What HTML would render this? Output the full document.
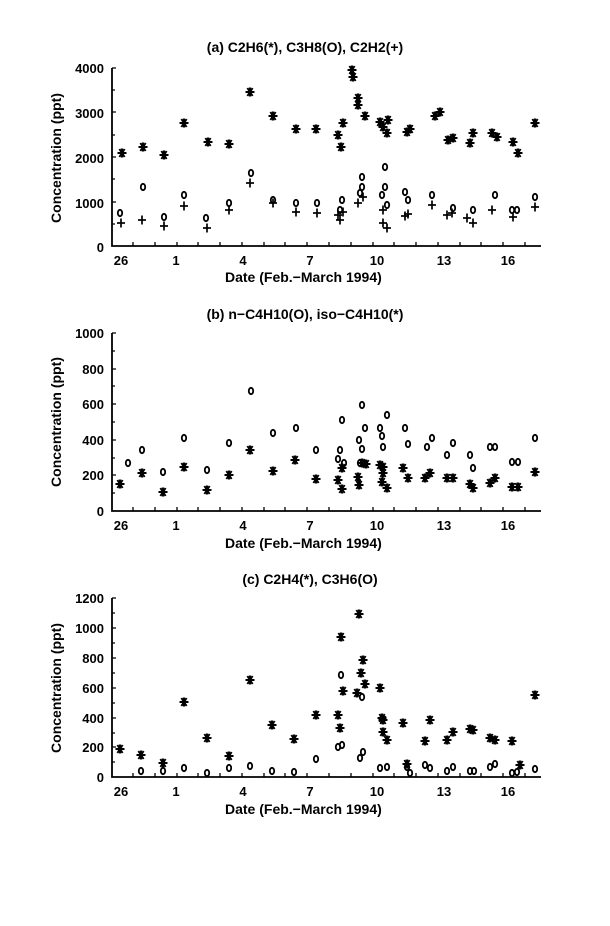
<!DOCTYPE html>
<html><head><meta charset="utf-8"><style>
html,body{margin:0;padding:0;background:#fff}
svg text{font-family:"Liberation Sans",sans-serif;font-weight:bold;fill:#000}
</style></head><body>
<svg width="610" height="921" viewBox="0 0 610 921" xmlns="http://www.w3.org/2000/svg">
<defs>
<g id="s" stroke="#000" stroke-width="2"><line x1="-4.5" y1="0" x2="4.5" y2="0"/><line x1="-2.6" y1="-4" x2="2.6" y2="4"/><line x1="-2.6" y1="4" x2="2.6" y2="-4"/><line x1="0" y1="-4.5" x2="0" y2="4.5"/></g>
<ellipse id="o" rx="2.2" ry="3.2" fill="none" stroke="#000" stroke-width="1.8"/>
<g id="p" stroke="#000" stroke-width="1.7"><line x1="-4" y1="0" x2="4" y2="0"/><line x1="0" y1="-4.5" x2="0" y2="4.5"/></g>
<g id="xt" stroke="#000" stroke-width="1.3"><path d="M133,0v-4M155,0v-4M177,0v-4M198,0v-4M220,0v-4M242,0v-4M264,0v-4M285,0v-4M307,0v-4M329,0v-4M351,0v-4M373,0v-4M394,0v-4M416,0v-4M438,0v-4M460,0v-4M481,0v-4M503,0v-4M525,0v-4"/></g>
<g id="xl" font-size="13" text-anchor="middle"><text x="121" y="0">26</text><text x="176" y="0">1</text><text x="243" y="0">4</text><text x="310" y="0">7</text><text x="377" y="0">10</text><text x="444" y="0">13</text><text x="508" y="0">16</text></g>
</defs>
<g stroke="#000" stroke-width="1.8" fill="none">
<path d="M112,68 V246 H541"/>
<path d="M112,333 V511 H541"/>
<path d="M112,598 V777 H541"/>
</g>
<use href="#xt" y="246"/><use href="#xt" y="511"/><use href="#xt" y="777"/>
<g stroke="#000" stroke-width="1.3">
<path d="M112,68h4M112,90h3M112,112h4M112,135h3M112,157h4M112,179h3M112,202h4M112,224h3"/>
<path d="M112,333h4M112,351h3M112,369h4M112,386h3M112,404h4M112,422h3M112,440h4M112,458h3M112,475h4M112,493h3"/>
<path d="M112,598h4M112,613h3M112,628h4M112,643h3M112,658h4M112,673h3M112,688h4M112,703h3M112,718h4M112,733h3M112,747h4M112,762h3"/>
</g>
<g font-size="14">
<text x="305" y="52" text-anchor="middle">(a) C2H6(*), C3H8(O), C2H2(+)</text>
<text x="305" y="319" text-anchor="middle">(b) n−C4H10(O), iso−C4H10(*)</text>
<text x="310" y="584" text-anchor="middle">(c) C2H4(*), C3H6(O)</text>
</g>
<g font-size="13" text-anchor="end">
<text x="104" y="73">4000</text><text x="104" y="118">3000</text><text x="104" y="163">2000</text><text x="104" y="208">1000</text><text x="104" y="252">0</text>
<text x="104" y="338">1000</text><text x="104" y="374">800</text><text x="104" y="409">600</text><text x="104" y="445">400</text><text x="104" y="480">200</text><text x="104" y="516">0</text>
<text x="104" y="603">1200</text><text x="104" y="633">1000</text><text x="104" y="663">800</text><text x="104" y="693">600</text><text x="104" y="723">400</text><text x="104" y="752">200</text><text x="104" y="782">0</text>
</g>
<use href="#xl" y="265"/><use href="#xl" y="530"/><use href="#xl" y="796"/>
<g font-size="14">
<text x="225" y="282">Date  (Feb.−March 1994)</text>
<text x="225" y="548">Date  (Feb.−March 1994)</text>
<text x="225" y="814">Date  (Feb.−March 1994)</text>
</g>
<g font-size="14">
<text transform="translate(61,158) rotate(-90)" text-anchor="middle">Concentration (ppt)</text>
<text transform="translate(61,422) rotate(-90)" text-anchor="middle">Concentration (ppt)</text>
<text transform="translate(61,688) rotate(-90)" text-anchor="middle">Concentration (ppt)</text>
</g>
<!-- panel a -->
<g>
<use href="#s" x="122" y="153"/><use href="#s" x="143" y="147"/><use href="#s" x="164" y="155"/><use href="#s" x="184" y="123"/><use href="#s" x="208" y="142"/><use href="#s" x="229" y="144"/><use href="#s" x="250" y="92"/><use href="#s" x="273" y="116"/><use href="#s" x="296" y="129"/><use href="#s" x="316" y="129"/><use href="#s" x="338" y="135"/><use href="#s" x="341" y="147"/><use href="#s" x="343" y="123"/><use href="#s" x="352" y="70"/><use href="#s" x="353" y="77"/><use href="#s" x="358" y="98"/><use href="#s" x="358" y="105"/><use href="#s" x="365" y="116"/><use href="#s" x="380" y="122"/><use href="#s" x="383" y="127"/><use href="#s" x="387" y="133"/><use href="#s" x="388" y="120"/><use href="#s" x="407" y="132"/><use href="#s" x="410" y="129"/><use href="#s" x="435" y="116"/><use href="#s" x="440" y="112"/><use href="#s" x="448" y="140"/><use href="#s" x="453" y="138"/><use href="#s" x="470" y="143"/><use href="#s" x="473" y="133"/><use href="#s" x="492" y="133"/><use href="#s" x="497" y="137"/><use href="#s" x="513" y="142"/><use href="#s" x="518" y="153"/><use href="#s" x="535" y="123"/>
<use href="#o" x="120" y="213"/><use href="#o" x="143" y="187"/><use href="#o" x="164" y="217"/><use href="#o" x="184" y="195"/><use href="#o" x="206" y="218"/><use href="#o" x="229" y="203"/><use href="#o" x="251" y="173"/><use href="#o" x="273" y="200"/><use href="#o" x="296" y="203"/><use href="#o" x="317" y="203"/><use href="#o" x="342" y="200"/><use href="#o" x="340" y="210"/><use href="#o" x="362" y="177"/><use href="#o" x="362" y="187"/><use href="#o" x="360" y="193"/><use href="#o" x="385" y="167"/><use href="#o" x="385" y="187"/><use href="#o" x="382" y="195"/><use href="#o" x="387" y="205"/><use href="#o" x="405" y="192"/><use href="#o" x="408" y="200"/><use href="#o" x="432" y="195"/><use href="#o" x="453" y="208"/><use href="#o" x="473" y="210"/><use href="#o" x="495" y="195"/><use href="#o" x="517" y="210"/><use href="#o" x="512" y="210"/><use href="#o" x="535" y="197"/>
<use href="#p" x="121" y="223"/><use href="#p" x="142" y="220"/><use href="#p" x="164" y="226"/><use href="#p" x="184" y="206"/><use href="#p" x="207" y="228"/><use href="#p" x="229" y="210"/><use href="#p" x="250" y="183"/><use href="#p" x="273" y="203"/><use href="#p" x="296" y="212"/><use href="#p" x="317" y="213"/><use href="#p" x="340" y="220"/><use href="#p" x="338" y="215"/><use href="#p" x="343" y="212"/><use href="#p" x="358" y="203"/><use href="#p" x="363" y="197"/><use href="#p" x="383" y="223"/><use href="#p" x="387" y="228"/><use href="#p" x="383" y="210"/><use href="#p" x="405" y="216"/><use href="#p" x="408" y="214"/><use href="#p" x="432" y="205"/><use href="#p" x="447" y="215"/><use href="#p" x="452" y="213"/><use href="#p" x="467" y="218"/><use href="#p" x="473" y="223"/><use href="#p" x="492" y="210"/><use href="#p" x="513" y="217"/><use href="#p" x="535" y="207"/>
</g>
<!-- panel b -->
<g>
<use href="#o" x="128" y="463"/><use href="#o" x="142" y="450"/><use href="#o" x="163" y="472"/><use href="#o" x="184" y="438"/><use href="#o" x="207" y="470"/><use href="#o" x="229" y="443"/><use href="#o" x="251" y="391"/><use href="#o" x="273" y="433"/><use href="#o" x="296" y="428"/><use href="#o" x="316" y="450"/><use href="#o" x="340" y="450"/><use href="#o" x="342" y="420"/><use href="#o" x="338" y="459"/><use href="#o" x="344" y="463"/><use href="#o" x="362" y="405"/><use href="#o" x="359" y="440"/><use href="#o" x="362" y="449"/><use href="#o" x="365" y="428"/><use href="#o" x="360" y="463"/><use href="#o" x="380" y="428"/><use href="#o" x="382" y="436"/><use href="#o" x="383" y="447"/><use href="#o" x="387" y="415"/><use href="#o" x="405" y="428"/><use href="#o" x="408" y="444"/><use href="#o" x="427" y="447"/><use href="#o" x="432" y="438"/><use href="#o" x="447" y="455"/><use href="#o" x="453" y="443"/><use href="#o" x="470" y="455"/><use href="#o" x="473" y="468"/><use href="#o" x="490" y="447"/><use href="#o" x="495" y="447"/><use href="#o" x="512" y="462"/><use href="#o" x="518" y="462"/><use href="#o" x="535" y="438"/>
<use href="#s" x="120" y="484"/><use href="#s" x="142" y="473"/><use href="#s" x="163" y="492"/><use href="#s" x="184" y="467"/><use href="#s" x="207" y="490"/><use href="#s" x="229" y="475"/><use href="#s" x="250" y="450"/><use href="#s" x="273" y="471"/><use href="#s" x="295" y="460"/><use href="#s" x="316" y="479"/><use href="#s" x="338" y="480"/><use href="#s" x="342" y="489"/><use href="#s" x="342" y="468"/><use href="#s" x="358" y="477"/><use href="#s" x="359" y="485"/><use href="#s" x="362" y="463"/><use href="#s" x="366" y="464"/><use href="#s" x="380" y="465"/><use href="#s" x="383" y="473"/><use href="#s" x="382" y="482"/><use href="#s" x="387" y="488"/><use href="#s" x="383" y="467"/><use href="#s" x="403" y="468"/><use href="#s" x="408" y="478"/><use href="#s" x="425" y="478"/><use href="#s" x="430" y="473"/><use href="#s" x="447" y="478"/><use href="#s" x="453" y="478"/><use href="#s" x="470" y="484"/><use href="#s" x="473" y="488"/><use href="#s" x="490" y="483"/><use href="#s" x="495" y="478"/><use href="#s" x="512" y="487"/><use href="#s" x="518" y="487"/><use href="#s" x="535" y="472"/>
</g>
<!-- panel c -->
<g>
<use href="#s" x="120" y="749"/><use href="#s" x="141" y="755"/><use href="#s" x="163" y="763"/><use href="#s" x="184" y="702"/><use href="#s" x="207" y="738"/><use href="#s" x="229" y="756"/><use href="#s" x="250" y="680"/><use href="#s" x="272" y="725"/><use href="#s" x="294" y="739"/><use href="#s" x="316" y="715"/><use href="#s" x="338" y="715"/><use href="#s" x="340" y="728"/><use href="#s" x="341" y="637"/><use href="#s" x="343" y="691"/><use href="#s" x="359" y="614"/><use href="#s" x="361" y="673"/><use href="#s" x="363" y="660"/><use href="#s" x="365" y="684"/><use href="#s" x="357" y="693"/><use href="#s" x="380" y="688"/><use href="#s" x="382" y="718"/><use href="#s" x="383" y="732"/><use href="#s" x="387" y="740"/><use href="#s" x="383" y="720"/><use href="#s" x="403" y="723"/><use href="#s" x="407" y="764"/><use href="#s" x="425" y="741"/><use href="#s" x="430" y="720"/><use href="#s" x="447" y="740"/><use href="#s" x="453" y="732"/><use href="#s" x="470" y="729"/><use href="#s" x="473" y="730"/><use href="#s" x="490" y="738"/><use href="#s" x="495" y="740"/><use href="#s" x="512" y="741"/><use href="#s" x="520" y="765"/><use href="#s" x="535" y="695"/>
<use href="#o" x="141" y="771"/><use href="#o" x="163" y="771"/><use href="#o" x="184" y="768"/><use href="#o" x="207" y="773"/><use href="#o" x="229" y="768"/><use href="#o" x="250" y="766"/><use href="#o" x="272" y="771"/><use href="#o" x="294" y="772"/><use href="#o" x="316" y="759"/><use href="#o" x="338" y="747"/><use href="#o" x="342" y="745"/><use href="#o" x="341" y="675"/><use href="#o" x="360" y="758"/><use href="#o" x="363" y="752"/><use href="#o" x="362" y="697"/><use href="#o" x="380" y="768"/><use href="#o" x="387" y="767"/><use href="#o" x="407" y="767"/><use href="#o" x="410" y="773"/><use href="#o" x="425" y="765"/><use href="#o" x="430" y="768"/><use href="#o" x="447" y="771"/><use href="#o" x="453" y="767"/><use href="#o" x="470" y="771"/><use href="#o" x="474" y="771"/><use href="#o" x="490" y="767"/><use href="#o" x="495" y="764"/><use href="#o" x="512" y="773"/><use href="#o" x="517" y="772"/><use href="#o" x="535" y="769"/>
</g>
</svg>
</body></html>
